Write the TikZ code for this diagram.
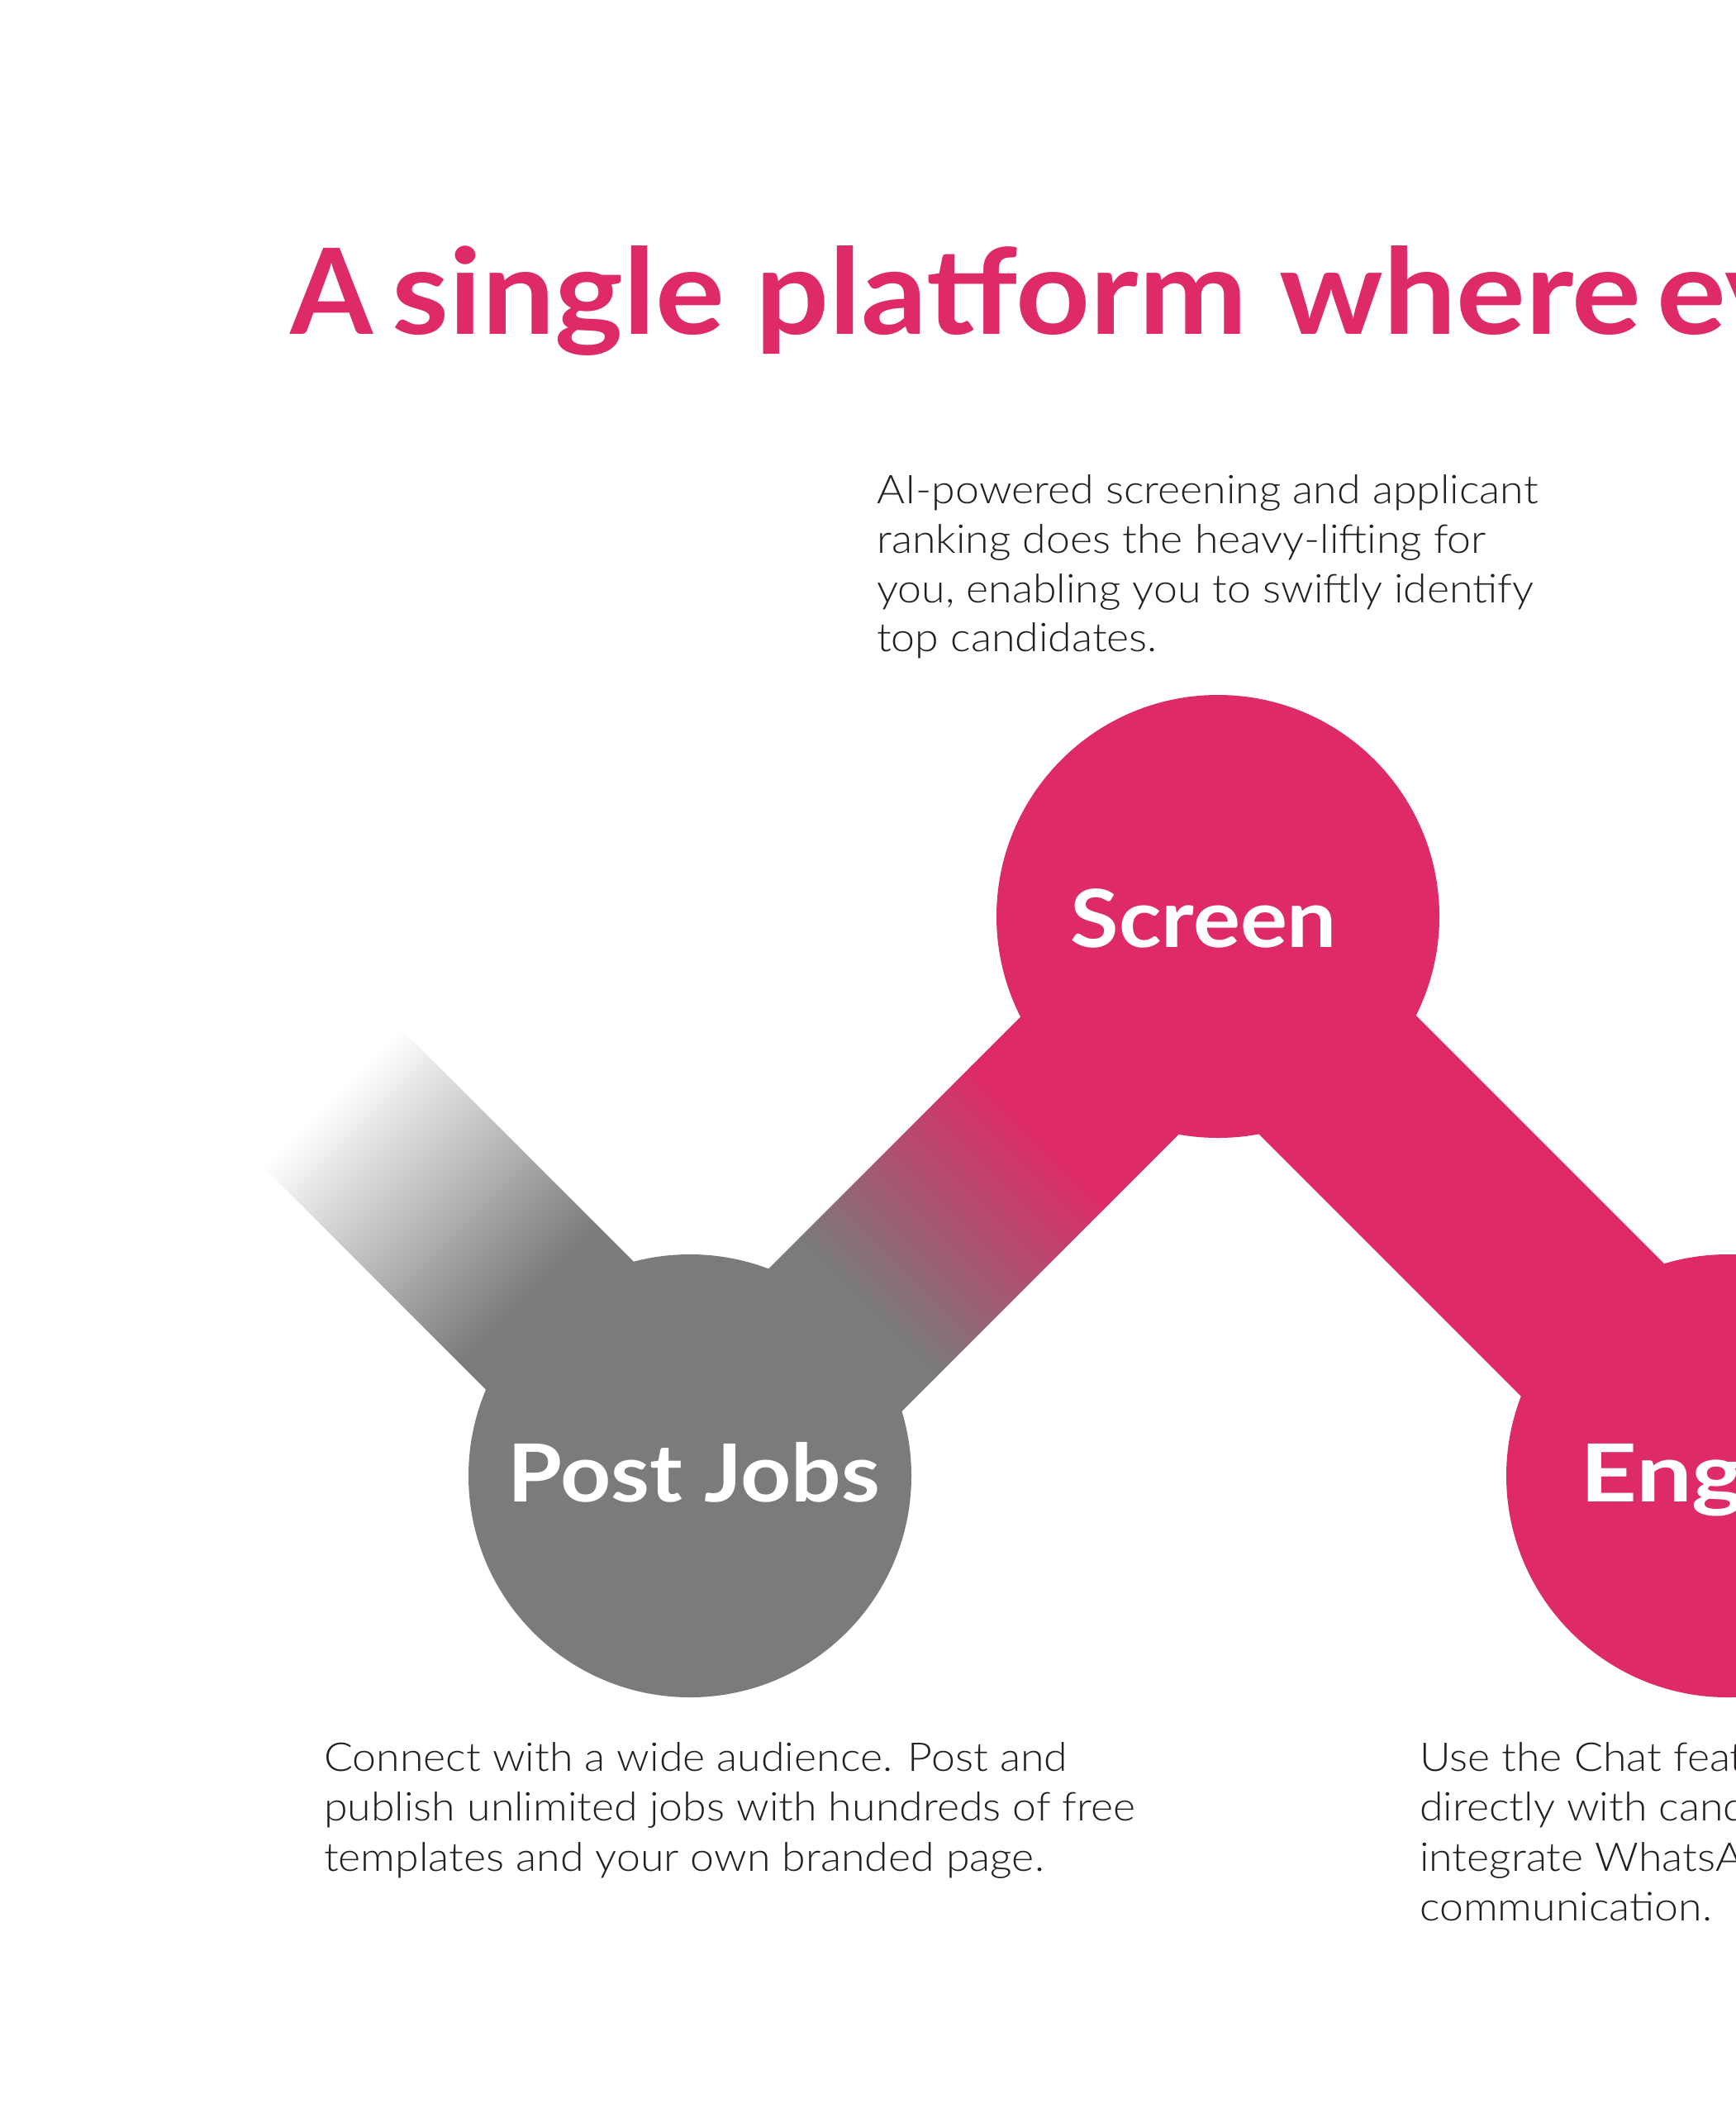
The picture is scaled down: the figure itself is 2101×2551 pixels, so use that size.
\documentclass[tikz,border=0pt]{standalone}
\usepackage{fontspec}
\usepackage{graphicx}
\setmainfont{Lato}
\IfFontExistsTF{Lato Light}{\newfontfamily\bodyfont{Lato Light}}{\newfontfamily\bodyfont{Lato}}
\definecolor{brandpink}{HTML}{DE2A66}
\definecolor{brandgray}{HTML}{7A7B7B}
\definecolor{bodyink}{HTML}{231F20}
\newcommand\stretchtitle[1]{\scalebox{1.09}[1]{#1}}
\newcommand\stretchlabel[1]{\scalebox{1.10}[1]{#1}}
\newcommand\stretchwide[1]{\scalebox{1.24}[1]{#1}}
\newcommand\stretchbody[1]{\scalebox{1.08}[1]{#1}}
\tikzset{
  titletext/.style={font=\fontsize{144}{150}\selectfont\bfseries, text=brandpink, inner sep=0pt, anchor=base west},
  steplabel/.style={font=\fontsize{97}{104}\selectfont\bfseries, text=white, inner sep=0pt, anchor=base},
  bodyline/.style={font=\bodyfont\fontsize{48}{60}\selectfont, text=bodyink, inner sep=0pt, anchor=base west},
  stepcircle/.style={circle, minimum size=536pt, inner sep=0pt, draw=none},
}
\begin{document}
\begin{tikzpicture}[x=1pt,y=-1pt]
\useasboundingbox (0,0) rectangle (2101,2551);
\fill[white] (0,0) rectangle (2101,2551);
\clip (0,0) rectangle (2101,2551);

\coordinate (ja) at (852.8,1779.6);
\coordinate (jb) at (1475.2,1157.1);

% left faded bar
\begin{scope}[transform canvas={shift={(ja)}, rotate=135}]
  \fill[brandgray] (-2,-118) rectangle (302,118);
  \shade[left color=brandgray, right color=white] (300,-118) rectangle (640,118);
\end{scope}
% Post Jobs -> Screen bar
\begin{scope}[transform canvas={shift={(ja)}, rotate=45}]
  \fill[brandgray] (-2,-118) rectangle (282,118);
  \shade[left color=brandgray, right color=brandpink] (280,-118) rectangle (575,118);
  \fill[brandpink] (573,-118) rectangle (998,118);
\end{scope}
% Screen -> Engage bar
\begin{scope}[transform canvas={shift={(jb)}, rotate=-45}]
  \fill[brandpink] (-118,-118) rectangle (1000,118);
\end{scope}

\node[stepcircle, fill=brandgray] (pj) at (835,1786) {};
\node[stepcircle, fill=brandpink] (sc) at (1474,1109) {};
\node[stepcircle, fill=brandpink] (en) at (2091,1786) {};

\node[steplabel] (pjl) at (840,1817) {\stretchlabel{Post Jobs}};
\node[steplabel] (scl) at (1457,1146) {\stretchlabel{Screen}};
\node[steplabel, anchor=base west] (enl) at (1912,1817) {\stretchwide{Engage}};

\node[titletext] (t1) at (351,404) {A};
\node[titletext] (t2) at (474,404) {\stretchtitle{single}};
\node[titletext] (t3) at (914,404) {\stretchtitle{platform}};
\node[titletext] (t4) at (1548,404) {\stretchtitle{where}};
\node[titletext] (t5) at (2005,404) {\stretchtitle{everything}};

\node[bodyline] (s1) at (1061,609) {\stretchbody{AI-powered screening and applicant}};
\node[bodyline] (s2) at (1061,669) {\stretchbody{ranking does the heavy-lifting for}};
\node[bodyline] (s3) at (1061,729) {\stretchbody{you, enabling you to swiftly identify}};
\node[bodyline] (s4) at (1061,788) {\stretchbody{top candidates.}};

\node[bodyline] (p1) at (392,2143) {\stretchbody{Connect with a wide audience. Post and}};
\node[bodyline] (p2) at (392,2203) {\stretchbody{publish unlimited jobs with hundreds of free}};
\node[bodyline] (p3) at (392,2264) {\stretchbody{templates and your own branded page.}};

\node[bodyline] (e1) at (1718,2143) {\stretchbody{Use the Chat feature}};
\node[bodyline] (e2) at (1718,2203) {\stretchbody{directly with candidates}};
\node[bodyline] (e3) at (1718,2264) {\stretchbody{integrate WhatsApp}};
\node[bodyline] (e4) at (1718,2324) {\stretchbody{communication.}};
\end{tikzpicture}
\end{document}
